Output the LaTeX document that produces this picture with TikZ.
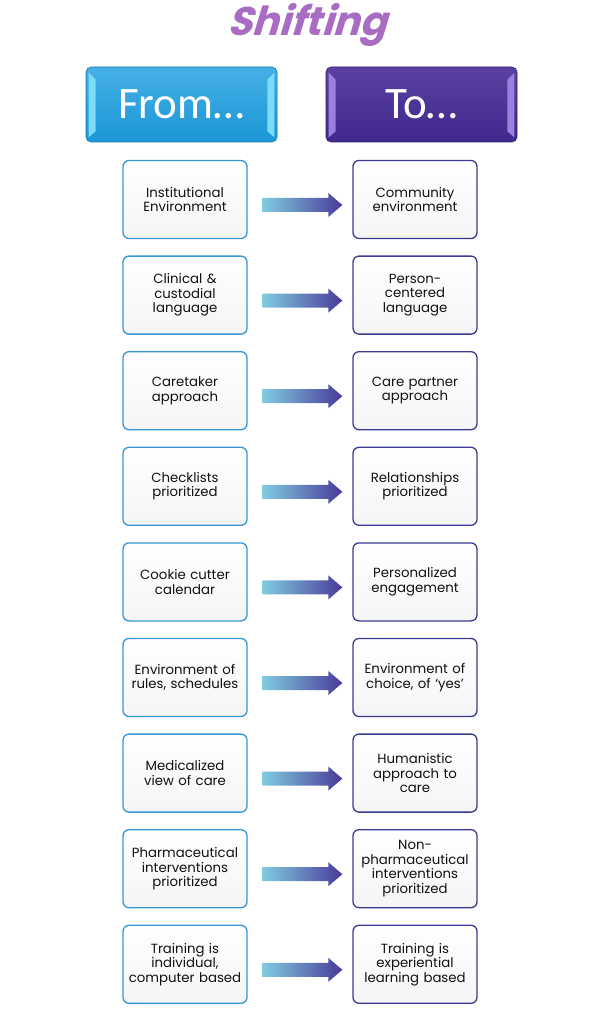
\documentclass[tikz,border=0pt]{standalone}
\usepackage{fontspec}
\setmainfont{Poppins}
\newfontfamily\headfont{Carlito}
\newfontfamily\titlefont[FakeSlant=0.3]{Poppins}
\usetikzlibrary{calc}
\definecolor{txt}{HTML}{111111}
\definecolor{fromedge}{HTML}{3597D4}
\definecolor{toedge}{HTML}{3A3A96}
\definecolor{fromtop}{HTML}{45B0E6}
\definecolor{frombot}{HTML}{1C96D6}
\definecolor{frombev}{HTML}{7ADCF7}
\definecolor{totop}{HTML}{5A409F}
\definecolor{tobot}{HTML}{40288E}
\definecolor{tobev}{HTML}{9B80DE}
\definecolor{arrA}{HTML}{80CBE0}
\definecolor{arrB}{HTML}{4A3A98}
\definecolor{titlecol}{HTML}{A86CC2}
\tikzset{
  cellbox/.style={rounded corners=6pt, line width=1.3pt, minimum width=124pt,
    minimum height=78pt, text width=122pt, align=center, inner sep=0pt,
    top color=white, bottom color=black!4, text=txt,
    font=\fontsize{13.3}{14.5}\selectfont},
  fromcell/.style={cellbox, draw=fromedge},
  tocell/.style={cellbox, draw=toedge},
  headbox/.style={rounded corners=5pt, minimum width=191pt, minimum height=75pt,
    inner sep=0pt, text=white, font=\headfont\fontsize{45}{50}\selectfont},
}
\begin{document}
\begin{tikzpicture}[x=1pt,y=-1pt]
\useasboundingbox (0,0) rectangle (592,1024);
% title
\node[text=titlecol, font=\titlefont\bfseries\fontsize{40}{44}\selectfont] (title) at (307,25) {Shifting};
% header boxes
\node[headbox, top color=fromtop, bottom color=frombot, draw=frombot!80!black, line width=0.6pt] (from) at (181.5,104.5) {\phantom{F}};
\fill[frombev] ($(from.north west)+(3,6)$) -- ($(from.north west)+(10,13)$) -- ($(from.south west)+(10,-11)$) -- ($(from.south west)+(3,-5)$) -- cycle;
\fill[frombev] ($(from.north east)+(-3,6)$) -- ($(from.north east)+(-10,13)$) -- ($(from.south east)+(-10,-11)$) -- ($(from.south east)+(-3,-5)$) -- cycle;
\node[text=white, font=\headfont\fontsize{45}{50}\selectfont] (fromtxt) at (from.center) {From…};
\node[headbox, top color=totop, bottom color=tobot, draw=tobot!80!black, line width=0.6pt] (to) at (421.5,104.5) {\phantom{T}};
\fill[tobev] ($(to.north west)+(3,6)$) -- ($(to.north west)+(10,13)$) -- ($(to.south west)+(10,-11)$) -- ($(to.south west)+(3,-5)$) -- cycle;
\fill[tobev] ($(to.north east)+(-3,6)$) -- ($(to.north east)+(-10,13)$) -- ($(to.south east)+(-10,-11)$) -- ($(to.south east)+(-3,-5)$) -- cycle;
\node[text=white, font=\headfont\fontsize{45}{50}\selectfont] (totxt) at (to.center) {To…};
% rows
\foreach \i/\a/\b in {
  0/{Institutional\\Environment}/{Community\\environment},
  1/{Clinical \&\\custodial\\language}/{Person-\\centered\\language},
  2/{Caretaker\\approach}/{Care partner\\approach},
  3/{Checklists\\prioritized}/{Relationships\\prioritized},
  4/{Cookie cutter\\calendar}/{Personalized\\engagement},
  5/{Environment of\\rules, schedules}/{Environment of\\choice, of ‘yes’},
  6/{Medicalized\\view of care}/{Humanistic\\approach to\\care},
  7/{Pharmaceutical\\interventions\\prioritized}/{Non-\\pharmaceutical\\interventions\\prioritized},
  8/{Training is\\individual,\\computer based}/{Training is\\experiential\\learning based}}{
  \node[fromcell] (l\i) at (185,{199.5+95.6*\i}) {\a};
  \node[tocell] (r\i) at (415,{199.5+95.6*\i}) {\b};
  \coordinate (s\i) at ($(l\i.east)+(15,5.5)$);
  \coordinate (t\i) at ($(r\i.west)+(-10,5.5)$);
  \shade[left color=arrA, right color=arrB]
    ($(s\i)+(0,-7)$) -- ($(t\i)+(-14,-7)$) -- ($(t\i)+(-14,-12)$) -- (t\i)
    -- ($(t\i)+(-14,12)$) -- ($(t\i)+(-14,7)$) -- ($(s\i)+(0,7)$) -- cycle;
}
\end{tikzpicture}
\end{document}
